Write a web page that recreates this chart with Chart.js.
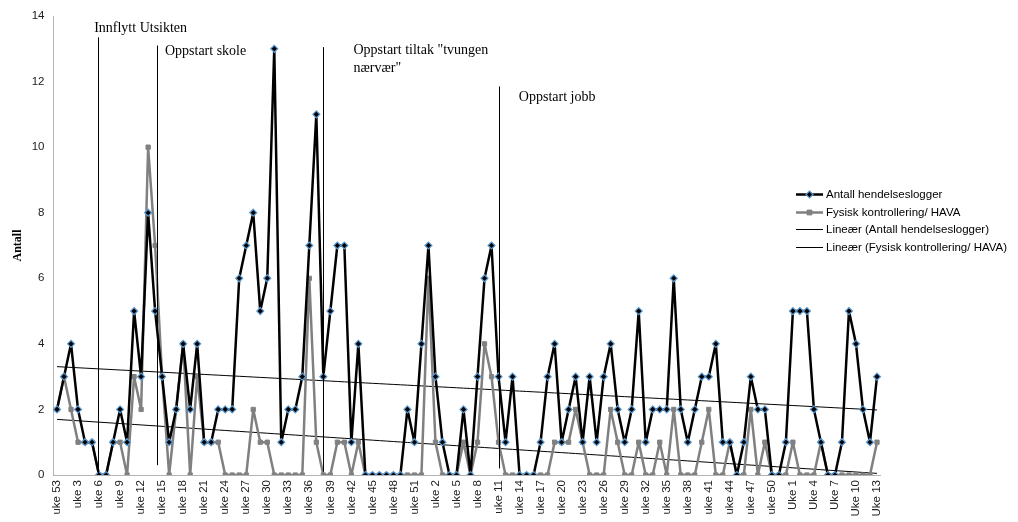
<!DOCTYPE html>
<html>
<head>
<meta charset="utf-8">
<script src="https://cdn.jsdelivr.net/npm/chart.js@4.4.1/dist/chart.umd.min.js"></script>
<style>
  html, body { margin: 0; padding: 0; background: #fff; }
  #wrap { width: 1018px; height: 522px; }
</style>
</head>
<body>
<div id="wrap"><canvas id="chart" width="1018" height="522"></canvas></div>
<script>
// categories: week numbers, one per point
var weeks = [
  'uke 53',
  'uke 1', 'uke 2', 'uke 3', 'uke 4', 'uke 5', 'uke 6', 'uke 7', 'uke 8', 'uke 9', 'uke 10',
  'uke 11', 'uke 12', 'uke 13', 'uke 14', 'uke 15', 'uke 16', 'uke 17', 'uke 18', 'uke 19', 'uke 20',
  'uke 21', 'uke 22', 'uke 23', 'uke 24', 'uke 25', 'uke 26', 'uke 27', 'uke 28', 'uke 29', 'uke 30',
  'uke 31', 'uke 32', 'uke 33', 'uke 34', 'uke 35', 'uke 36', 'uke 37', 'uke 38', 'uke 39', 'uke 40',
  'uke 41', 'uke 42', 'uke 43', 'uke 44', 'uke 45', 'uke 46', 'uke 47', 'uke 48', 'uke 49', 'uke 50',
  'uke 51', 'uke 52',
  'uke 1', 'uke 2', 'uke 3', 'uke 4', 'uke 5', 'uke 6', 'uke 7', 'uke 8', 'uke 9', 'uke 10',
  'uke 11', 'uke 12', 'uke 13', 'uke 14', 'uke 15', 'uke 16', 'uke 17', 'uke 18', 'uke 19', 'uke 20',
  'uke 21', 'uke 22', 'uke 23', 'uke 24', 'uke 25', 'uke 26', 'uke 27', 'uke 28', 'uke 29', 'uke 30',
  'uke 31', 'uke 32', 'uke 33', 'uke 34', 'uke 35', 'uke 36', 'uke 37', 'uke 38', 'uke 39', 'uke 40',
  'uke 41', 'uke 42', 'uke 43', 'uke 44', 'uke 45', 'uke 46', 'uke 47', 'uke 48', 'uke 49', 'uke 50',
  'uke 51', 'uke 52',
  'Uke 1', 'Uke 2', 'Uke 3', 'Uke 4', 'Uke 5', 'Uke 6', 'Uke 7', 'Uke 8', 'Uke 9', 'Uke 10',
  'Uke 11', 'Uke 12', 'Uke 13'
];

// Antall hendelseslogger
var hendelser = [
  2, 3, 4, 2, 1, 1, 0, 0, 1, 2, 1, 5, 3, 8, 5, 3, 1,
  2, 4, 2, 4, 1, 1, 2, 2, 2, 6, 7, 8, 5, 6, 13, 1, 2,
  2, 3, 7, 11, 3, 5, 7, 7, 1, 4, 0, 0, 0, 0, 0, 0, 2,
  1, 4, 7, 3, 1, 0, 0, 2, 0, 3, 6, 7, 3, 1, 3, 0, 0,
  0, 1, 3, 4, 1, 2, 3, 1, 3, 1, 3, 4, 2, 1, 2, 5, 1,
  2, 2, 2, 6, 2, 1, 2, 3, 3, 4, 1, 1, 0, 1, 3, 2, 2,
  0, 0, 1, 5, 5, 5, 2, 1, 0, 0, 1, 5, 4, 2, 1, 3
];

// Fysisk kontrollering/ HAVA
var fysisk = [
  2, 3, 2, 1, 1, 1, 0, 0, 1, 1, 0, 3, 2, 10, 7, 3, 0,
  2, 4, 0, 3, 1, 1, 1, 0, 0, 0, 0, 2, 1, 1, 0, 0, 0,
  0, 0, 6, 1, 0, 0, 1, 1, 0, 1, 0, 0, 0, 0, 0, 0, 0,
  0, 0, 6, 1, 0, 0, 0, 1, 0, 1, 4, 3, 1, 0, 0, 0, 0,
  0, 0, 0, 1, 1, 1, 2, 1, 0, 0, 0, 2, 1, 0, 0, 1, 0,
  0, 1, 0, 2, 0, 0, 0, 1, 2, 0, 0, 1, 0, 0, 2, 0, 1,
  0, 0, 0, 1, 0, 0, 0, 1, 0, 0, 0, 0, 0, 0, 0, 1
];

// y axis range
var yMin = 0, yMax = 14, yStep = 2;

// event markers: x in category index, y in axis units
var events = [
  { text: ['Innflytt Utsikten'], x: 5.9, top: 13.35, bottom: 0, textX: 5.3, textY: 13.63 },
  { text: ['Oppstart skole'], x: 14.3, top: 13.1, bottom: 0.3, textX: 15.4, textY: 12.93 },
  { text: ['Oppstart tiltak "tvungen', 'nærvær"'], x: 38.0, top: 13.05, bottom: 0.1, textX: 42.3, textY: 12.96 },
  { text: ['Oppstart jobb'], x: 63.0, top: 11.85, bottom: 0.2, textX: 65.9, textY: 11.52 }
];

// linear trend line (least squares), like Excel's "Lineær"
function trend(values) {
  var n = values.length, sx = 0, sy = 0, sxy = 0, sxx = 0;
  values.forEach(function (v, i) { sx += i; sy += v; sxy += i * v; sxx += i * i; });
  var b = (n * sxy - sx * sy) / (n * sxx - sx * sx);
  var a = (sy - b * sx) / n;
  return values.map(function (v, i) { return a + b * i; });
}

var eventPlugin = {
  id: 'events',
  afterDatasetsDraw: function (chart) {
    var ctx = chart.ctx, xs = chart.scales.x, ys = chart.scales.y;
    ctx.save();
    events.forEach(function (ev) {
      var px = Math.round(xs.getPixelForValue(ev.x)) + 0.5;
      ctx.strokeStyle = '#000';
      ctx.lineWidth = 1;
      ctx.beginPath();
      ctx.moveTo(px, ys.getPixelForValue(ev.top));
      ctx.lineTo(px, ys.getPixelForValue(ev.bottom));
      ctx.stroke();
      ctx.fillStyle = '#000';
      ctx.font = '14px "Liberation Serif", "Times New Roman", serif';
      ctx.textBaseline = 'middle';
      ctx.textAlign = 'left';
      var tx = xs.getPixelForValue(ev.textX);
      var ty = ys.getPixelForValue(ev.textY);
      ev.text.forEach(function (line, k) {
        ctx.fillText(line, tx, ty + k * 18);
      });
    });
    ctx.restore();
  }
};

var legendPlugin = {
  id: 'sideLegend',
  afterDraw: function (chart) {
    var ctx = chart.ctx;
    var x0 = 796, y0 = 194, gap = 17.5;
    ctx.save();
    chart.data.datasets.forEach(function (ds, k) {
      var y = Math.round(y0 + k * gap) + 0.5;
      ctx.strokeStyle = ds.borderColor;
      ctx.lineWidth = ds.borderWidth;
      ctx.beginPath();
      ctx.moveTo(x0, y);
      ctx.lineTo(x0 + 27, y);
      ctx.stroke();
      var cx = x0 + 13.5, r = ds.pointRadius;
      if (r > 0) {
        ctx.fillStyle = ds.pointBackgroundColor;
        ctx.strokeStyle = ds.pointBorderColor;
        ctx.lineWidth = ds.pointBorderWidth;
        ctx.beginPath();
        if (ds.pointStyle === 'rectRot') {
          ctx.moveTo(cx, y - r); ctx.lineTo(cx + r, y); ctx.lineTo(cx, y + r); ctx.lineTo(cx - r, y);
        } else {
          ctx.rect(cx - r * 0.8, y - r * 0.8, r * 1.6, r * 1.6);
        }
        ctx.closePath();
        ctx.fill();
        ctx.stroke();
      }
      ctx.fillStyle = '#000';
      ctx.font = '11.5px "Liberation Sans", Arial, sans-serif';
      ctx.textBaseline = 'middle';
      ctx.textAlign = 'left';
      ctx.fillText(ds.label, x0 + 30, y);
    });
    ctx.restore();
  }
};

var ctx = document.getElementById('chart').getContext('2d');
var chart = new Chart(ctx, {
  type: 'line',
  data: {
    labels: weeks,
    datasets: [{
      label: 'Antall hendelseslogger',
      data: hendelser,
      borderColor: '#000000',
      borderWidth: 2.5,
      borderJoinStyle: 'round',
      pointStyle: 'rectRot',
      pointRadius: 3.5,
      pointBackgroundColor: '#000000',
      pointBorderColor: '#5b9bd5',
      pointBorderWidth: 1.2,
      tension: 0
    }, {
      label: 'Fysisk kontrollering/ HAVA',
      data: fysisk,
      borderColor: '#808080',
      borderWidth: 2.5,
      borderJoinStyle: 'round',
      pointStyle: 'rect',
      pointRadius: 3,
      pointBackgroundColor: '#808080',
      pointBorderColor: '#808080',
      pointBorderWidth: 1,
      tension: 0
    }, {
      label: 'Lineær (Antall hendelseslogger)',
      data: trend(hendelser),
      borderColor: '#000000',
      borderWidth: 1,
      pointRadius: 0
    }, {
      label: 'Lineær (Fysisk kontrollering/ HAVA)',
      data: trend(fysisk),
      borderColor: '#000000',
      borderWidth: 1,
      pointRadius: 0
    }]
  },
  options: {
    responsive: false,
    animation: false,
    events: [],
    layout: { padding: { left: 0, right: 137.5, top: 16, bottom: 0 } },
    plugins: {
      legend: { display: false },
      tooltip: { enabled: false }
    },
    scales: {
      x: {
        offset: true,
        grid: { display: false, drawTicks: false },
        border: { display: true, color: '#b3b3b3', width: 1 },
        ticks: {
          autoSkip: false,
          minRotation: 90,
          maxRotation: 90,
          padding: 5,
          color: '#222',
          font: { family: '"Liberation Sans", Arial, sans-serif', size: 11.5 },
          callback: function (v, i) { return i % 3 === 0 ? this.getLabelForValue(v) : ''; }
        },
        afterFit: function (s) { s.height = 47; }
      },
      y: {
        min: yMin,
        max: yMax,
        grid: { display: false, drawTicks: false },
        border: { display: true, color: '#b3b3b3', width: 1 },
        ticks: {
          stepSize: yStep,
          padding: 9,
          color: '#222',
          font: { family: '"Liberation Sans", Arial, sans-serif', size: 11.5 }
        },
        title: {
          display: true,
          text: 'Antall',
          color: '#000',
          padding: { top: 11, bottom: 4 },
          font: { family: '"Liberation Serif", "Times New Roman", serif', size: 12, weight: 'bold' }
        },
        afterFit: function (s) { s.width = 53.5; }
      }
    }
  },
  plugins: [eventPlugin, legendPlugin]
});
</script>
</body>
</html>
